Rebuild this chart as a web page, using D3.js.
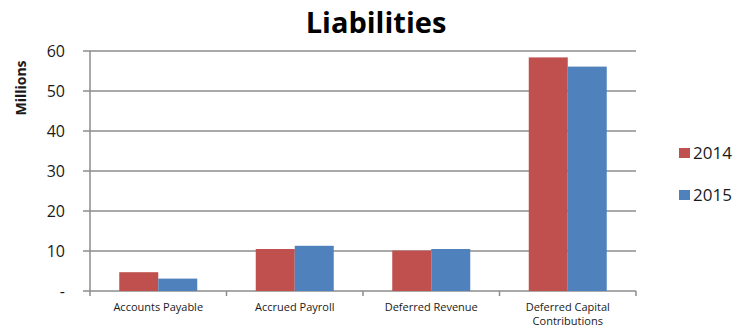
<!DOCTYPE html>
<html>
<head>
<meta charset="utf-8">
<script src="https://cdn.jsdelivr.net/npm/d3@7"></script>
<style>
  html, body { margin: 0; padding: 0; background: #fff; }
  svg { display: block; }
</style>
</head>
<body>
<svg id="chart" width="752" height="329"></svg>
<script>
// Liabilities by category, in millions
const categories = ["Accounts Payable", "Accrued Payroll", "Deferred Revenue", "Deferred Capital Contributions"];
const categoryLines = [["Accounts Payable"], ["Accrued Payroll"], ["Deferred Revenue"], ["Deferred Capital", "Contributions"]];
const seriesNames = ["2014", "2015"];
const values2014 = [4.7, 10.5, 10.1, 58.4];
const values2015 = [3.1, 11.3, 10.5, 56.1];
const yTicks = [0, 10, 20, 30, 40, 50, 60];
const yTickLabels = ["-", "10", "20", "30", "40", "50", "60"];
const colors = ["#C0504D", "#4F81BD"];

const seriesValues = [values2014, values2015];
const svg = d3.select("#chart");
const font = "'Open Sans', 'Noto Sans', sans-serif";

const plot = { left: 90, right: 636, top: 51, bottom: 291 };

const x = d3.scaleBand().domain(categories).range([plot.left, plot.right]).paddingInner(0).paddingOuter(0);
const y = d3.scaleLinear().domain([0, 60]).range([plot.bottom, plot.top]);
// two bars per group, gap of 1.5 bar widths between groups
const barW = x.bandwidth() / 3.5;
const xs = d3.scaleBand().domain(seriesNames).range([0, barW * 2]);

// gridlines (with ticks extending left of the axis)
svg.append("g")
  .selectAll("line")
  .data(yTicks)
  .join("line")
  .attr("x1", plot.left - 7)
  .attr("x2", plot.right)
  .attr("y1", d => y(d))
  .attr("y2", d => y(d))
  .attr("stroke", "#8c8c8c")
  .attr("stroke-width", 1.5);

// y axis line
svg.append("line")
  .attr("x1", plot.left).attr("x2", plot.left)
  .attr("y1", plot.top).attr("y2", plot.bottom)
  .attr("stroke", "#8c8c8c").attr("stroke-width", 1.5);

// category separator ticks on the x axis
const sepTicks = categories.map(c => x(c)).concat([plot.right]);
svg.append("g")
  .selectAll("line")
  .data(sepTicks)
  .join("line")
  .attr("x1", d => d).attr("x2", d => d)
  .attr("y1", plot.bottom).attr("y2", plot.bottom + 5)
  .attr("stroke", "#8c8c8c").attr("stroke-width", 1.5);

// bars
seriesNames.forEach((s, si) => {
  svg.append("g")
    .selectAll("rect")
    .data(categories)
    .join("rect")
    .attr("x", c => x(c) + (x.bandwidth() - barW * 2) / 2 + xs(s))
    .attr("width", xs.bandwidth())
    .attr("y", (c, i) => y(seriesValues[si][i]))
    .attr("height", (c, i) => y(0) - y(seriesValues[si][i]))
    .attr("fill", colors[si]);
});

// y tick labels
svg.append("g")
  .selectAll("text")
  .data(yTicks)
  .join("text")
  .attr("x", 65)
  .attr("y", d => y(d) + 6)
  .attr("text-anchor", "end")
  .attr("font-family", font)
  .attr("font-size", 16)
  .attr("fill", "#1a1a1a")
  .text((d, i) => yTickLabels[i]);

// y axis title
svg.append("text")
  .attr("transform", "translate(26,88) rotate(-90)")
  .attr("text-anchor", "middle")
  .attr("font-family", font)
  .attr("font-weight", "bold")
  .attr("font-size", 14)
  .attr("fill", "#1a1a1a")
  .text("Millions");

// category labels
const catG = svg.append("g");
categories.forEach((c, i) => {
  const t = catG.append("text")
    .attr("x", x(c) + x.bandwidth() / 2)
    .attr("y", 311)
    .attr("text-anchor", "middle")
    .attr("font-family", font)
    .attr("font-size", 11)
    .attr("fill", "#1a1a1a");
  categoryLines[i].forEach((line, li) => {
    t.append("tspan")
      .attr("x", x(c) + x.bandwidth() / 2)
      .attr("dy", li === 0 ? 0 : 14)
      .text(line);
  });
});

// title
svg.append("text")
  .attr("x", 376)
  .attr("y", 33)
  .attr("text-anchor", "middle")
  .attr("font-family", font)
  .attr("font-weight", "bold")
  .attr("font-size", 29)
  .attr("fill", "#000")
  .text("Liabilities");

// legend
const legend = svg.append("g");
seriesNames.forEach((s, i) => {
  const ly = 148 + i * 42;
  legend.append("rect")
    .attr("x", 679).attr("y", ly)
    .attr("width", 11).attr("height", 10)
    .attr("fill", colors[i]);
  legend.append("text")
    .attr("x", 693).attr("y", ly + 11)
    .attr("font-family", font)
    .attr("font-size", 17)
    .attr("fill", "#1a1a1a")
    .text(s);
});
</script>
</body>
</html>
